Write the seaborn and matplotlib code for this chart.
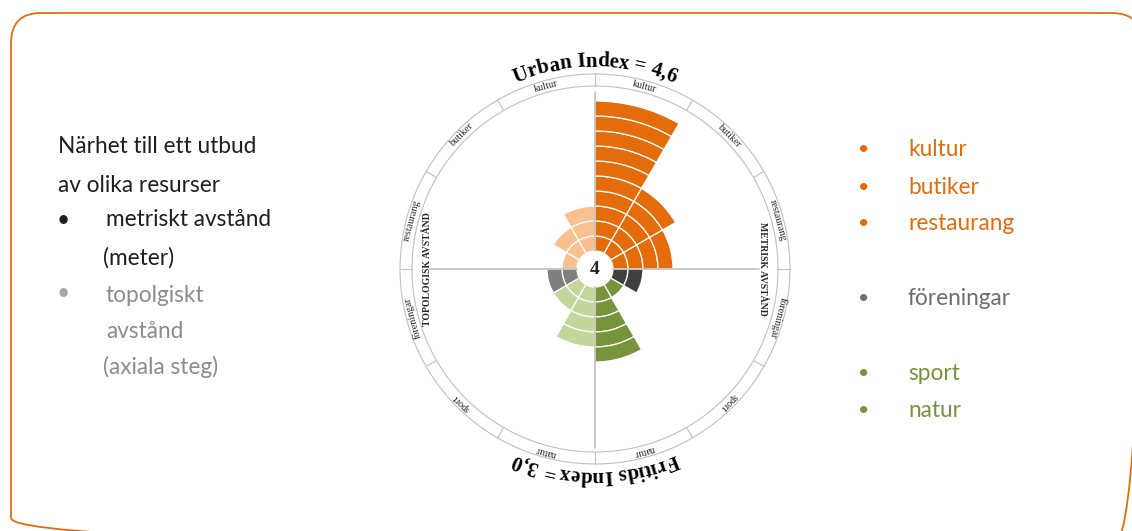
import numpy as np
import pandas as pd
import matplotlib
matplotlib.use('Agg')
import matplotlib.pyplot as plt
from matplotlib.patches import FancyBboxPatch
from matplotlib.font_manager import FontProperties
import seaborn as sns

# data
categories = ['kultur', 'butiker', 'restaurang', 'föreningar', 'sport', 'natur']
metric_steps = [10, 5, 4, 2, 1, 5]
topo_steps = [3, 2, 1, 2, 2, 4]
metric_colors = ['#E46C0A', '#E46C0A', '#E46C0A', '#404040', '#77933C', '#77933C']
topo_colors = ['#FAC090', '#FAC090', '#FAC090', '#7F7F7F', '#C3D69B', '#C3D69B']
legend_colors = ['#E46C0A', '#E46C0A', '#E46C0A', '#6E6E70', '#77933C', '#77933C']
urban_title = 'Urban Index = 4,6'
fritids_title = 'Fritids Index = 3,0'
center_value = '4'

W, H = 1132, 531
CX, CY = 595, 269
PX = 15.0
HOLE = 1.2
RMAX = 14.8
SERIF = 'Liberation Serif'
GREY = '#C0C0C0'

sns.set_theme(style='white')
plt.rcParams['font.family'] = ['Lato', 'DejaVu Sans']

fig = plt.figure(figsize=(W / 100, H / 100), dpi=100)
fig.patch.set_facecolor('white')

bg = fig.add_axes([0, 0, 1, 1])
bg.set_xlim(0, W)
bg.set_ylim(H, 0)
bg.set_axis_off()
bg.add_patch(FancyBboxPatch((11, 13), 1131, 535, boxstyle='round,pad=0,rounding_size=30',
                            fill=False, edgecolor='#E46C0A', linewidth=1.3, clip_on=True))

R_PX = RMAX * PX
ax = fig.add_axes([(CX - R_PX) / W, (H - CY - R_PX) / H, 2 * R_PX / W, 2 * R_PX / H], projection='polar')
ax.set_theta_zero_location('N')
ax.set_theta_direction(-1)
ax.set_rlim(0, RMAX)
ax.set_axis_off()

rows = []
for steps, cols, sign in [(metric_steps, metric_colors, 1), (topo_steps, topo_colors, -1)]:
    for k, (cat, n, c) in enumerate(zip(categories, steps, cols)):
        for i in range(n):
            rows.append({'kategori': cat, 'theta': sign * np.deg2rad(15 + 30 * k),
                         'bottom': HOLE + i, 'color': c})
segs = pd.DataFrame(rows)
ax.bar(segs['theta'], 1.0, width=np.deg2rad(30), bottom=segs['bottom'], color=segs['color'],
       edgecolor='white', linewidth=0.9, align='center', zorder=2)

# axis cross
ax.plot([0, 0], [HOLE, 11.8], color=GREY, lw=1.2, zorder=3)
ax.plot([np.pi, np.pi], [HOLE, 11.9], color=GREY, lw=1.2, zorder=3)
ax.plot([np.pi / 2] * 2, [HOLE, 10.95], color=GREY, lw=1.2, zorder=3)
ax.plot([-np.pi / 2] * 2, [HOLE, 11.0], color=GREY, lw=1.2, zorder=3)

# label ring
tt = np.linspace(0, 2 * np.pi, 721)
ax.plot(tt, np.full_like(tt, 12.2), color=GREY, lw=0.8)
ax.plot(tt, np.full_like(tt, 13.0), color=GREY, lw=0.8)
for k in range(12):
    ax.plot([np.deg2rad(30 * k)] * 2, [12.2, 13.0], color=GREY, lw=0.8)
for k, cat in enumerate(categories):
    for sign in (1, -1):
        deg = sign * (15 + 30 * k)
        ax.text(np.deg2rad(deg), 12.6, cat, rotation=-deg, rotation_mode='anchor',
                ha='center', va='center', fontsize=7.3, family=SERIF)

ax.text(np.pi / 2, 11.2, 'METRISK AVSTÅND', rotation=-90, rotation_mode='anchor',
        ha='center', va='center', fontsize=7, fontweight='bold', family=SERIF)
ax.text(-np.pi / 2, 11.2, 'TOPOLOGISK AVSTÅND', rotation=90, rotation_mode='anchor',
        ha='center', va='center', fontsize=7, fontweight='bold', family=SERIF)
ax.text(0, 0, center_value, ha='center', va='center', fontsize=14, fontweight='bold', family=SERIF)


def arc_text(s, theta0, r):
    fp = FontProperties(family=SERIF, weight='bold', size=15)
    rend = fig.canvas.get_renderer()

    def width(t):
        return rend.get_text_width_height_descent(t, fp, ismath=False)[0]

    total = width(s)
    r_px = r * PX
    for i, ch in enumerate(s):
        if ch == ' ':
            continue
        mid = width(s[:i + 1]) - width(ch) / 2 - total / 2
        th = theta0 + mid / r_px
        ax.text(th, r, ch, fontproperties=fp, rotation=-np.rad2deg(th), rotation_mode='anchor',
                ha='center', va='baseline', color='black')


arc_text(urban_title, 0.0, 13.5)
arc_text(fritids_title, np.pi, 13.45)

# left description
FS = 16.3
dark = '#1F1F1F'
soft = '#8C8C8C'
bg.text(58, 153, 'Närhet till ett utbud', fontsize=FS, color=dark, va='baseline')
bg.text(58, 191.5, 'av olika resurser', fontsize=FS, color=dark, va='baseline')
bg.text(63, 220, '•', fontsize=FS, color=dark, va='center', ha='center')
bg.text(106, 226.5, 'metriskt avstånd', fontsize=FS, color=dark, va='baseline')
bg.text(103, 264.5, '(meter)', fontsize=FS, color=dark, va='baseline')
bg.text(63, 293.5, '•', fontsize=FS, color='#A6A6A6', va='center', ha='center')
bg.text(106, 301.5, 'topolgiskt', fontsize=FS, color=soft, va='baseline')
bg.text(106, 338, 'avstånd', fontsize=FS, color=soft, va='baseline')
bg.text(103, 374.5, '(axiala steg)', fontsize=FS, color=soft, va='baseline')

# right legend
legend_y = [156, 193.5, 230, 305, 380.5, 417]
for cat, y, c in zip(categories, legend_y, legend_colors):
    bg.text(864, y - 6.5, '•', fontsize=14, color=c, va='center', ha='center')
    bg.text(908, y, cat, fontsize=FS, color=c, va='baseline')

fig.savefig('out.png', dpi=100)
